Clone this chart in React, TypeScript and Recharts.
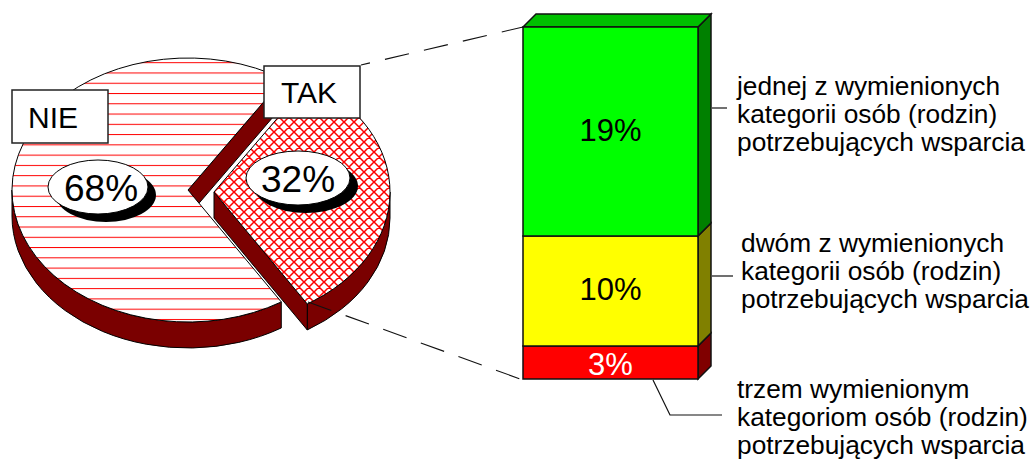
import { Bar, BarChart, LabelList, Pie, PieChart, XAxis, YAxis } from 'recharts';

const answers = ['NIE', 'TAK'];
const answerShares = [68, 32];
const stackKeys = ['trzem', 'dwom', 'jednej'];
const stackShares = [3, 10, 19];
const stackColors = ['#ff0000', '#ffff00', '#00ff00'];
const stackSideColors = ['#800000', '#808000', '#008000'];
const stackLabelColors = ['#ffffff', '#000000', '#000000'];
const stackLabelNudge = [1, -2, -2];
const noteJednej = ['jednej z wymienionych', 'kategorii osób (rodzin)', 'potrzebujących wsparcia'];
const noteDwom = ['dwóm z wymienionych', 'kategorii osób (rodzin)', 'potrzebujących wsparcia'];
const noteTrzem = ['trzem wymienionym', 'kategoriom osób (rodzin)', 'potrzebujących wsparcia'];

const pieData = answers.map((name, i) => ({ name, value: answerShares[i] }));
const stackRow: Record<string, number | string> = { name: 'TAK' };
stackKeys.forEach((k, i) => {
  stackRow[k] = stackShares[i];
});

const FONT = '"Liberation Sans", Arial, sans-serif';
const SQUASH = 0.75;
const DEPTH = 26;
const WALL = '#7a0000';
const OFFSETS = [
  { dx: 0, dy: 0 },
  { dx: 26, dy: 2 },
];
const CALLOUTS = [
  { box: [12, 90, 96, 53], bubble: [98, 187, 50, 27], bubbleText: 101, boxText: 53, boxBase: 128 },
  { box: [264, 66, 96, 52], bubble: [298, 178, 52, 27], bubbleText: 298, boxText: 309, boxBase: 103 },
];
const FILLS = ['url(#rowsRed)', 'url(#diamondRed)'];

function ElevatedSlice(props: any) {
  const { cx, cy, outerRadius: rx, startAngle, endAngle, index } = props;
  const ry = rx * SQUASH;
  const cxx = cx + OFFSETS[index].dx;
  const cyy = cy + OFFSETS[index].dy;
  const pt = (deg: number, drop = 0) => {
    const a = (deg * Math.PI) / 180;
    return `${cxx + rx * Math.cos(a)} ${cyy - ry * Math.sin(a) + drop}`;
  };
  const large = Math.abs(startAngle - endAngle) > 180 ? 1 : 0;
  const top = `M${cxx} ${cyy} L${pt(startAngle)} A${rx} ${ry} 0 ${large} 1 ${pt(endAngle)} Z`;
  const from = startAngle > 180 ? startAngle : 0;
  const to = startAngle > 180 ? 180 : endAngle;
  const rim = `M${pt(from)} A${rx} ${ry} 0 0 1 ${pt(to)} L${pt(to, DEPTH)} A${rx} ${ry} 0 0 0 ${pt(from, DEPTH)} Z`;
  const cut = `M${cxx} ${cyy} L${pt(endAngle)} L${pt(endAngle, DEPTH)} L${cxx} ${cyy + DEPTH} Z`;
  return (
    <g>
      <path d={rim} fill={WALL} stroke="#000" strokeWidth={1} />
      <path d={cut} fill={WALL} stroke="#000" strokeWidth={1} />
      <path d={top} fill={FILLS[index]} stroke="#000" strokeWidth={1} />
    </g>
  );
}

function renderCallout(props: any) {
  const { index, name, value } = props;
  const c = CALLOUTS[index];
  const [bx, by, bw, bh] = c.box;
  const [ex, ey, erx, ery] = c.bubble;
  return (
    <g key={name} fontFamily={FONT}>
      <ellipse cx={ex + 8} cy={ey + 8} rx={erx} ry={ery} fill="#000" />
      <ellipse cx={ex} cy={ey} rx={erx} ry={ery} fill="#fff" stroke="#000" strokeWidth={1} />
      <text x={c.bubbleText} y={ey + 14} textAnchor="middle" fontSize={37} fill="#000">
        {value}%
      </text>
      <rect x={bx} y={by} width={bw} height={bh} fill="#fff" stroke="#222" strokeWidth={1.5} />
      <text x={c.boxText} y={c.boxBase} textAnchor="middle" fontSize={30} fill="#000">
        {name}
      </text>
    </g>
  );
}

function stackBlock(index: number) {
  return function Block(props: any) {
    const { x, y, width, height } = props;
    const d = 13;
    return (
      <g stroke="#111" strokeWidth={1.5}>
        <path
          d={`M${x + width} ${y} l${d} ${-d} v${height} l${-d} ${d} Z`}
          fill={stackSideColors[index]}
        />
        {index === stackKeys.length - 1 && (
          <path d={`M${x} ${y} l${d} ${-d} h${width} l${-d} ${d} Z`} fill="#00c000" />
        )}
        <rect x={x} y={y} width={width} height={height} fill={stackColors[index]} />
      </g>
    );
  };
}

function Note({ x, y, lines }: { x: number; y: number; lines: string[] }) {
  return (
    <text fontFamily={FONT} fontSize={26.3} fill="#000">
      {lines.map((l, i) => (
        <tspan key={i} x={x} y={y + i * 28}>
          {l}
        </tspan>
      ))}
    </text>
  );
}

export default function App() {
  return (
    <div style={{ position: 'absolute', left: 0, top: 0, width: 1033, height: 459, background: '#fff', overflow: 'hidden' }}>
      <div style={{ position: 'absolute', left: 0, top: 0 }}>
        <PieChart width={1033} height={459} margin={{ top: 0, right: 0, bottom: 0, left: 0 }}>
          <defs>
            <pattern id="rowsRed" patternUnits="userSpaceOnUse" width={10} height={10.27} y={62.2}>
              <rect width={10} height={10.27} fill="#fff" />
              <rect width={10} y={0} height={1} fill="#ff0000" />
            </pattern>
            <pattern id="diamondRed" patternUnits="userSpaceOnUse" width={10} height={10} x={4} y={2}>
              <rect width={10} height={10} fill="#fff" />
              <path d="M-1 -1 L11 11 M-1 11 L11 -1 M-1 9 L1 11 M9 -1 L11 1 M-1 1 L1 -1 M9 11 L11 9" stroke="#ff0000" strokeWidth={1.5} fill="none" />
            </pattern>
          </defs>
          <Pie
            data={pieData}
            dataKey="value"
            nameKey="name"
            cx={188}
            cy={190}
            outerRadius={176}
            innerRadius={0}
            startAngle={302}
            endAngle={-58}
            shape={ElevatedSlice}
            label={renderCallout}
            labelLine={false}
            isAnimationActive={false}
          />
        </PieChart>
      </div>
      <div style={{ position: 'absolute', left: 0, top: 0 }}>
        <BarChart
          width={1033}
          height={459}
          data={[stackRow]}
          margin={{ top: 27, right: 335, bottom: 80, left: 523 }}
          barCategoryGap={0}
        >
          <XAxis dataKey="name" hide />
          <YAxis hide domain={[0, 32]} />
          {stackKeys.map((k, i) => (
            <Bar key={k} dataKey={k} stackId="tak" shape={stackBlock(i)} isAnimationActive={false}>
              <LabelList
                dataKey={k}
                position="center"
                formatter={(v: any) => `${v}%`}
                fontFamily={FONT}
                fontSize={31}
                dy={stackLabelNudge[i]}
                fill={stackLabelColors[i]}
              />
            </Bar>
          ))}
        </BarChart>
      </div>
      <svg width={1033} height={459} style={{ position: 'absolute', left: 0, top: 0 }}>
        <line x1={361} y1={65} x2={523} y2={27} stroke="#111" strokeWidth={1.1} strokeDasharray="24.6 15.4" strokeDashoffset={15.4} />
        <line x1={308} y1={302} x2={523} y2={380} stroke="#111" strokeWidth={1.1} strokeDasharray="24.8 15.2" />
        <line x1={712} y1={108} x2={727} y2={108} stroke="#111" strokeWidth={1.2} />
        <line x1={712} y1={276} x2={733} y2={276} stroke="#111" strokeWidth={1.2} />
        <polyline points="653,380 670,415 722,415" fill="none" stroke="#111" strokeWidth={1.2} />
        <Note x={737} y={95} lines={noteJednej} />
        <Note x={741} y={252} lines={noteDwom} />
        <Note x={737} y={398} lines={noteTrzem} />
      </svg>
    </div>
  );
}
